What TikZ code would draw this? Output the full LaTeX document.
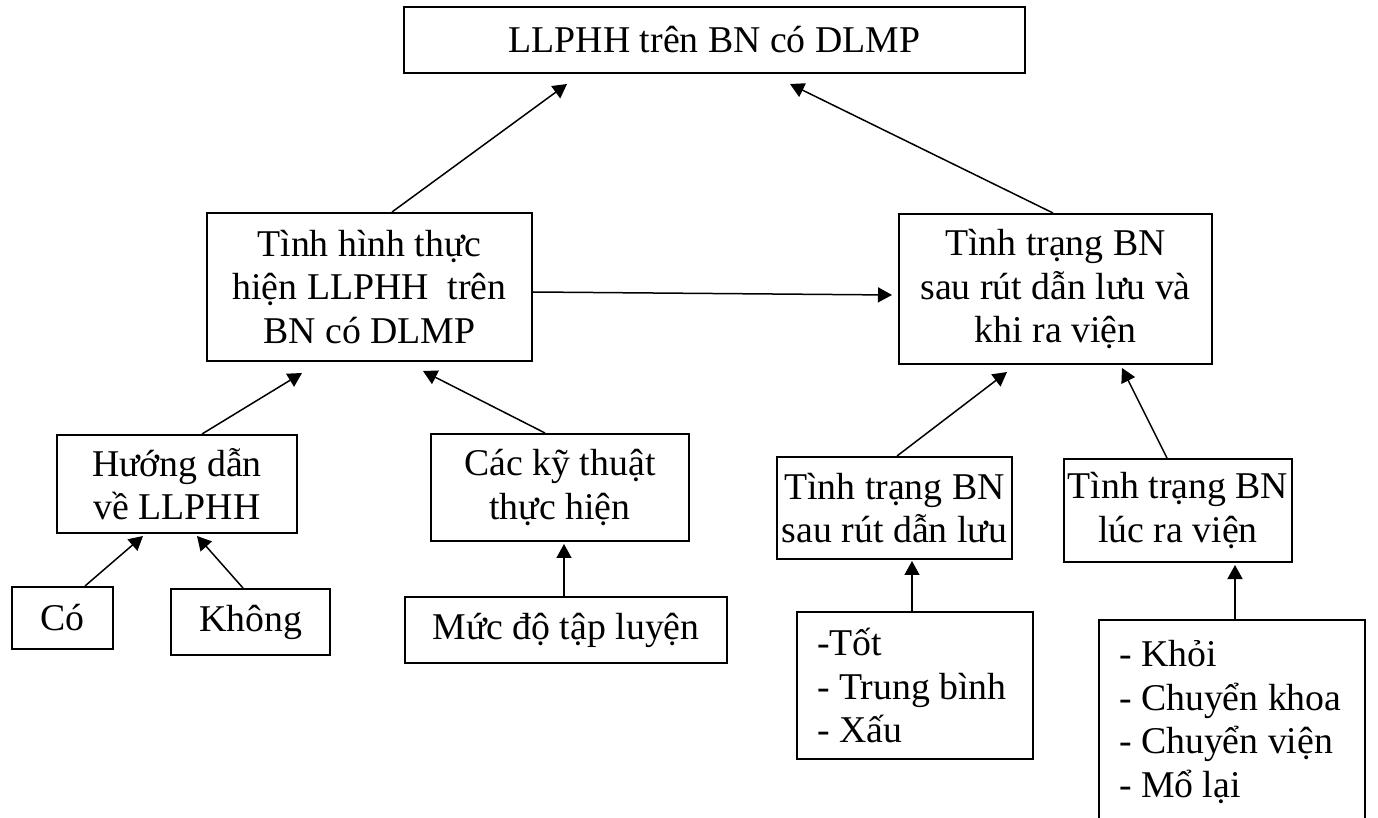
\documentclass[tikz,border=0pt]{standalone}
\usepackage{fontspec}
\setmainfont{Liberation Serif}
\usetikzlibrary{arrows.meta,calc}
\tikzset{
  box/.style={draw,line width=1pt,inner sep=0pt,align=center,
    font=\fontsize{18.9}{21.75}\selectfont},
  listbox/.style={box,align=flush left,inner xsep=10pt},
  link/.style={->,line width=0.75pt},
}
\begin{document}
\begin{tikzpicture}[x=0.5pt,y=-0.5pt,>={Triangle[length=7pt,width=7.5pt]}]
      \useasboundingbox (0,0) rectangle (1378,818);
      \draw
        (714.5,40) node[box,minimum width=310.5pt,minimum height=33pt] (top){LLPHH trên BN có DLMP}
        (369.5,287) node[box,minimum width=162.5pt,minimum height=74pt] (thuchien){Tình hình thực\\hiện LLPHH~ trên\\BN có DLMP}
        (1055.5,289) node[box,minimum width=156.5pt,minimum height=75pt] (tinhtrang){Tình trạng BN\\sau rút dẫn lưu và\\khi ra viện}
        (177,484) node[box,minimum width=120pt,minimum height=49pt] (huongdan){Hướng dẫn\\về LLPHH}
        (560,487.5) node[box,minimum width=129pt,minimum height=53.5pt] (kythuat){Các kỹ thuật\\thực hiện}
        (62.5,618) node[box,minimum width=50.5pt,minimum height=31pt] (co){Có}
        (250.5,622) node[box,minimum width=79.5pt,minimum height=33pt] (khong){Không}
        (566,630) node[box,minimum width=161pt,minimum height=33pt] (mucdo){Mức độ tập luyện}
        (894.5,508) node[box,minimum width=117.5pt,minimum height=51pt] (saurut){Tình trạng BN\\sau rút dẫn lưu}
        (1178,510.5) node[box,minimum width=114pt,minimum height=51.5pt] (raven){Tình trạng BN\\lúc ra viện}
        (915,685.5) node[listbox,text width=98pt,minimum width=118pt,minimum height=73.5pt] (ketqua1){-Tốt\\- Trung bình\\- Xấu}
        (1232,722) node[listbox,text width=113pt,minimum width=133pt,minimum height=102pt] (ketqua2){- Khỏi\\- Chuyển khoa\\- Chuyển viện\\- Mổ lại};
      \begin{scope}[link]
        \draw ($(thuchien.north)+(22.5,0)$) to ($(top.south)+(-147.5,10)$);
        \draw ($(tinhtrang.north)+(-2.5,0)$) to ($(top.south)+(75.5,10)$);
        \draw ($(thuchien.east)+(0,5)$) to ($(tinhtrang.west)+(-6,6)$);
        \draw ($(huongdan.north)+(25,0)$) to ($(thuchien.south)+(-67.5,11)$);
        \draw ($(kythuat.north)+(-15,0)$) to ($(thuchien.south)+(53.5,9)$);
        \draw ($(co.north)+(22.5,0)$) to ($(huongdan.south)+(-34,2)$);
        \draw ($(khong.north)+(-7.5,0)$) to ($(huongdan.south)+(20,2)$);
        \draw ($(mucdo.north)+(-2,0)$) to ($(kythuat.south)+(4,2)$);
        \draw ($(saurut.north)+(2.5,0)$) to ($(tinhtrang.south)+(-48.5,7)$);
        \draw ($(raven.north)+(-11,0)$) to ($(tinhtrang.south)+(66.5,3)$);
        \draw ($(ketqua1.north)+(-3,0)$) to ($(saurut.south)+(17.5,1)$);
        \draw ($(ketqua2.north)+(3,0)$) to ($(raven.south)+(57,2)$);
      \end{scope}
    \end{tikzpicture}
\end{document}
